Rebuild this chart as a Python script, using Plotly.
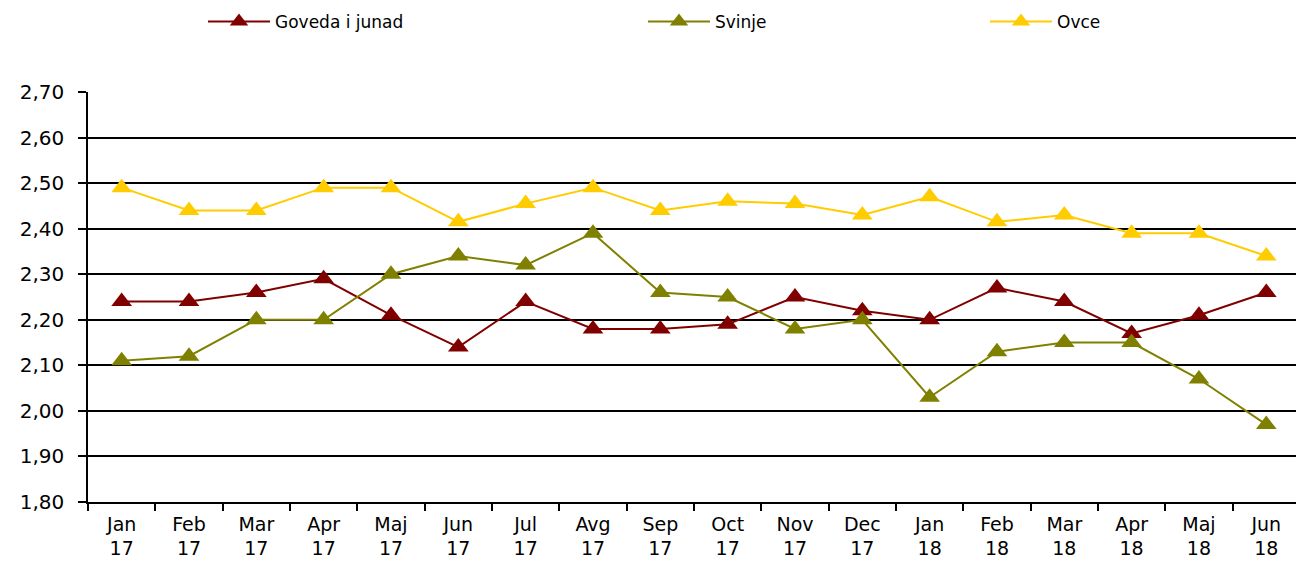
import plotly.graph_objects as go

months = ["Jan<br>17", "Feb<br>17", "Mar<br>17", "Apr<br>17", "Maj<br>17", "Jun<br>17",
          "Jul<br>17", "Avg<br>17", "Sep<br>17", "Oct<br>17", "Nov<br>17", "Dec<br>17",
          "Jan<br>18", "Feb<br>18", "Mar<br>18", "Apr<br>18", "Maj<br>18", "Jun<br>18"]

goveda = [2.24, 2.24, 2.26, 2.29, 2.21, 2.14, 2.24, 2.18, 2.18, 2.19, 2.25, 2.22,
          2.20, 2.27, 2.24, 2.17, 2.21, 2.26]
svinje = [2.11, 2.12, 2.20, 2.20, 2.30, 2.34, 2.32, 2.39, 2.26, 2.25, 2.18, 2.20,
          2.03, 2.13, 2.15, 2.15, 2.07, 1.97]
ovce = [2.49, 2.44, 2.44, 2.49, 2.49, 2.415, 2.455, 2.49, 2.44, 2.46, 2.455, 2.43,
        2.47, 2.415, 2.43, 2.39, 2.39, 2.34]

names = ["Goveda i junad", "Svinje", "Ovce"]
colors = ["#800000", "#808000", "#FFCC00"]
series = [goveda, svinje, ovce]
legends = ["legend", "legend2", "legend3"]

fig = go.Figure()
for nm, col, vals, lg in zip(names, colors, series, legends):
    fig.add_trace(go.Scatter(
        x=months, y=vals, name=nm, mode="lines+markers",
        line=dict(color=col, width=2),
        marker=dict(symbol="triangle-up", size=18, color=col),
        legend=lg,
    ))

FAM = "DejaVu Sans, Liberation Sans, Arial, sans-serif"
xfont = dict(family=FAM, size=19, color="#000000")
yfont = dict(family=FAM, size=20, color="#000000")
legfont = dict(family=FAM, size=17, color="#000000")

# page body has an 8px margin: figure starts at (8, 8)
W, H = 1296, 554
PL, PT, PB = 80, 84, 60

def leg(xpx):
    return dict(x=(xpx - 88) / 1216, xref="paper",
                y=1 - (22 - 8) / H, yref="container",
                xanchor="left", yanchor="middle",
                orientation="h", font=legfont, itemwidth=62, bgcolor="rgba(0,0,0,0)",
                tracegroupgap=0)

fig.update_layout(
    width=W, height=H,
    margin=dict(l=PL, r=0, t=PT, b=PB, autoexpand=False),
    plot_bgcolor="white", paper_bgcolor="white",
    separators=", ",
    font=xfont,
    showlegend=True,
    legend=leg(203),
    legend2=leg(643),
    legend3=leg(985),
    xaxis=dict(
        type="category", range=[-0.5, 17.56],
        showline=True, linecolor="#000000", linewidth=1.5,
        ticks="outside", tickson="boundaries", ticklen=7, tickcolor="#000000", tickwidth=1.5,
        showgrid=False, tickfont=xfont, fixedrange=True, ticklabelstandoff=4,
        automargin=False,
    ),
    yaxis=dict(
        range=[1.80, 2.70], dtick=0.1, tick0=1.8, tickformat=".2f",
        showline=True, linecolor="#000000", linewidth=1.5,
        ticks="outside", ticklen=8, tickcolor="#000000", tickwidth=1.5,
        showgrid=True, gridcolor="#000000", gridwidth=1.5,
        zeroline=False, tickfont=yfont, fixedrange=True, ticklabelstandoff=10,
        automargin=False,
    ),
)

fig.write_html("out.html")
